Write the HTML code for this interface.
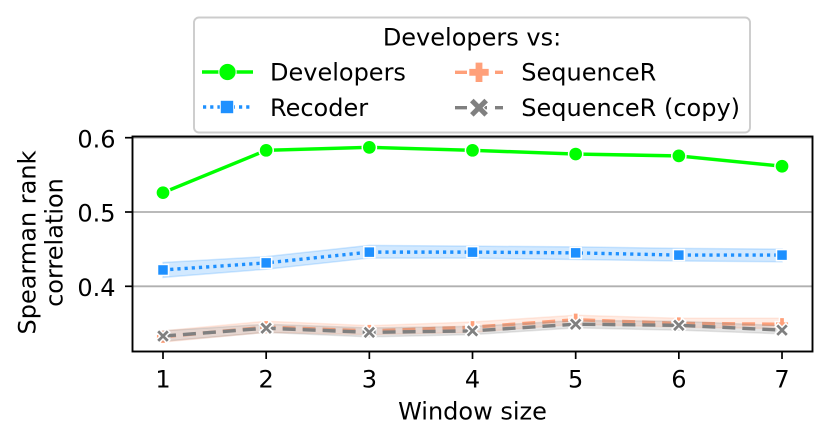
<!DOCTYPE html>
<html>
<head>
<meta charset="utf-8">
<style>
html,body{margin:0;padding:0;background:#fff;width:830px;height:442px;overflow:hidden}
svg{display:block}
text{font-family:"DejaVu Sans","Liberation Sans",sans-serif;fill:#000}
</style>
</head>
<body>
<svg id="chart" xmlns="http://www.w3.org/2000/svg" width="830" height="442" viewBox="0 0 830 442">
  <rect x="0" y="0" width="830" height="442" fill="#fff"/>
  <g id="grid"></g>
  <g id="series"></g>
  <rect x="132.5" y="136.5" width="680" height="215" fill="none" stroke="#000" stroke-width="1.9"/>
  <g id="ticks"></g>
  <text x="472.5" y="419.3" font-size="24" text-anchor="middle">Window size</text>
  <text transform="translate(35.5,242.5) rotate(-90)" font-size="24" text-anchor="middle">Spearman rank</text>
  <text transform="translate(62.5,242.5) rotate(-90)" font-size="24" text-anchor="middle">correlation</text>
  <g>
    <rect x="194" y="17.5" width="556" height="115" rx="5" ry="5" fill="#fff" fill-opacity="0.85" stroke="#cccccc" stroke-width="1.9"/>
    <text x="472" y="45.5" font-size="24" text-anchor="middle">Developers vs:</text>
    <text x="270" y="80.5" font-size="24">Developers</text>
    <text x="270" y="116" font-size="24">Recoder</text>
    <text x="521.3" y="80.5" font-size="24">SequenceR</text>
    <text x="521.3" y="116" font-size="24">SequenceR (copy)</text>
    <g id="legend-handles"></g>
  </g>
</svg>
<script>
var windowSizes = [1, 2, 3, 4, 5, 6, 7];
var yTickValues = [0.4, 0.5, 0.6];
var yTickLabels = ['0.4', '0.5', '0.6'];

var developers = [0.526, 0.583, 0.587, 0.583, 0.578, 0.5755, 0.5616];
var developersUpper = [0.5275, 0.5845, 0.5885, 0.5845, 0.5795, 0.577, 0.563];
var developersLower = [0.5245, 0.5815, 0.5855, 0.5815, 0.5765, 0.574, 0.560];

var recoder = [0.422, 0.4315, 0.446, 0.446, 0.445, 0.442, 0.442];
var recoderUpper = [0.432, 0.44, 0.455, 0.454, 0.453, 0.451, 0.45];
var recoderLower = [0.412, 0.423, 0.438, 0.438, 0.436, 0.434, 0.433];

var sequencer = [0.332, 0.345, 0.34, 0.345, 0.355, 0.35, 0.349];
var sequencerUpper = [0.34, 0.353, 0.347, 0.352, 0.361, 0.357, 0.357];
var sequencerLower = [0.325, 0.338, 0.335, 0.338, 0.349, 0.345, 0.343];

var sequencerCopy = [0.333, 0.3436, 0.338, 0.34, 0.349, 0.3475, 0.341];
var sequencerCopyUpper = [0.34, 0.349, 0.344, 0.346, 0.354, 0.353, 0.347];
var sequencerCopyLower = [0.326, 0.338, 0.332, 0.335, 0.344, 0.341, 0.336];

var NS = 'http://www.w3.org/2000/svg';
function xScale(v) { return 163 + (v - 1) * 103.17; }
function yScale(v) { return 212 - (v - 0.5) * 743; }

function make(tag, parent) {
  var el = document.createElementNS(NS, tag);
  parent.appendChild(el);
  return el;
}
function setAll(el, map) {
  for (var k in map) { el.setAttribute(k, map[k]); }
}

function drawMarker(parent, kind, cx, cy, color, scale) {
  var el, s = scale;
  if (kind === 'circle') {
    el = make('circle', parent);
    setAll(el, {cx: cx, cy: cy, r: 7.1 * s});
  } else if (kind === 'square') {
    el = make('rect', parent);
    setAll(el, {x: cx - 5.5 * s, y: cy - 5.5 * s, width: 11 * s, height: 11 * s});
  } else if (kind === 'plus') {
    var a = 6.8 * s, b = 2.6 * s;
    el = make('polygon', parent);
    el.setAttribute('points', [[-b,-a],[b,-a],[b,-b],[a,-b],[a,b],[b,b],[b,a],[-b,a],[-b,b],[-a,b],[-a,-b],[-b,-b]].map(function (p) {
      return (cx + p[0]) + ',' + (cy + p[1]);
    }).join(' '));
  } else {
    var o = 6.8 * s, i = 3 * s;
    el = make('polygon', parent);
    el.setAttribute('points', [[-o,-o+i],[-o+i,-o],[0,-i],[o-i,-o],[o,-o+i],[i,0],[o,o-i],[o-i,o],[0,i],[-o+i,o],[-o,o-i],[-i,0]].map(function (p) {
      return (cx + p[0]) + ',' + (cy + p[1]);
    }).join(' '));
  }
  el.setAttribute('fill', color);
  return el;
}

var gridLayer = document.getElementById('grid');
var tickLayer = document.getElementById('ticks');
var seriesLayer = document.getElementById('series');
var legendLayer = document.getElementById('legend-handles');

yTickValues.forEach(function (v, i) {
  var y = yScale(v);
  var g = make('line', gridLayer);
  setAll(g, {x1: 132.5, x2: 812.5, y1: y, y2: y, stroke: '#b0b0b0', 'stroke-width': 1.8});
  
  
  var t = make('line', tickLayer);
  setAll(t, {x1: 125, x2: 132.5, y1: y, y2: y, stroke: '#000', 'stroke-width': 1.7});
  
  
  var l = make('text', tickLayer);
  setAll(l, {x: 115.5, y: y + 9.6, 'font-size': 24, 'text-anchor': 'end'});
  l.textContent = yTickLabels[i];
  
  
});

windowSizes.forEach(function (v) {
  var x = xScale(v);
  var t = make('line', tickLayer);
  setAll(t, {x1: x, x2: x, y1: 351.5, y2: 359, stroke: '#000', 'stroke-width': 1.7});
  
  
  var l = make('text', tickLayer);
  setAll(l, {x: x, y: 387.3, 'font-size': 24, 'text-anchor': 'middle'});
  l.textContent = String(v);
  
  
});

function drawSeries(name, values, upper, lower, color, dash, marker, markerEdge) {
  var group = make('g', seriesLayer);
  
  

  var top = windowSizes.map(function (v, i) { return xScale(v) + ',' + yScale(upper[i]); });
  var bottom = windowSizes.map(function (v, i) { return xScale(v) + ',' + yScale(lower[i]); }).reverse();
  var band = make('polygon', group);
  setAll(band, {points: top.concat(bottom).join(' '), fill: color, 'fill-opacity': 0.2, stroke: color, 'stroke-opacity': 0.2, 'stroke-width': 1.5});
  
  

  var line = make('polyline', group);
  setAll(line, {
    points: windowSizes.map(function (v, i) { return xScale(v) + ',' + yScale(values[i]); }).join(' '),
    fill: 'none', stroke: color, 'stroke-width': 3.4
  });
  if (dash) { line.setAttribute('stroke-dasharray', dash); }
  
  

  windowSizes.forEach(function (v, i) {
    var m = drawMarker(group, marker, xScale(v), yScale(values[i]), color, 1);
    m.setAttribute('stroke', '#fff');
    m.setAttribute('stroke-width', markerEdge);
    
    
  });
}

drawSeries('developers', developers, developersUpper, developersLower, '#00ff00', null, 'circle', 1.5);
drawSeries('recoder', recoder, recoderUpper, recoderLower, '#1e90ff', '3.2 4', 'square', 1.5);
drawSeries('sequencer', sequencer, sequencerUpper, sequencerLower, '#ffa07a', '13 7', 'plus', 1.5);
drawSeries('sequencer-copy', sequencerCopy, sequencerCopyUpper, sequencerCopyLower, '#808080', '13 7', 'x', 1.5);

function drawHandle(name, x1, x2, y, color, dash, marker, scale) {
  var line = make('line', legendLayer);
  setAll(line, {x1: x1, x2: x2, y1: y, y2: y, stroke: color, 'stroke-width': 3.4});
  if (dash) { line.setAttribute('stroke-dasharray', dash); }
  
  
  var m = drawMarker(legendLayer, marker, (x1 + x2) / 2, y, color, scale);
  m.setAttribute('stroke', '#fff');
  m.setAttribute('stroke-width', 1);
  
  
}

drawHandle('developers', 202, 253, 72, '#00ff00', null, 'circle', 1.22);
drawHandle('recoder', 203, 251, 107, '#1e90ff', '3.2 4', 'square', 1.22);
drawHandle('sequencer', 455, 503, 72.3, '#ffa07a', '12 8', 'plus', 1.5);
drawHandle('sequencer-copy', 455, 503, 107.7, '#808080', '12 8', 'x', 1.42);
</script>
</body>
</html>
